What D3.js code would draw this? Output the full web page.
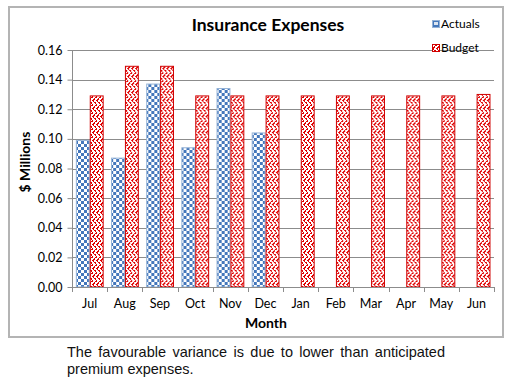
<!DOCTYPE html>
<html><head><meta charset="utf-8">
<script src="https://cdn.jsdelivr.net/npm/d3@7/dist/d3.min.js"></script>
<style>
html,body{margin:0;padding:0;background:#fff;}
svg{display:block;}
</style></head>
<body>
<svg id="c" width="513" height="383"></svg>
<script>
const months = ["Jul","Aug","Sep","Oct","Nov","Dec","Jan","Feb","Mar","Apr","May","Jun"];
const actuals = [0.099,0.087,0.137,0.094,0.134,0.104,null,null,null,null,null,null];
const budget = [0.129,0.149,0.149,0.129,0.129,0.129,0.129,0.129,0.129,0.129,0.129,0.130];
const seriesNames = ["Actuals","Budget"];
const yTicks = [0,0.02,0.04,0.06,0.08,0.10,0.12,0.14,0.16];
const titleText = "Insurance Expenses";
const xTitle = "Month";
const yTitle = "$ Millions";
const footer = ["The favourable variance is due to lower than anticipated","premium expenses."];

(function(){
const svg = d3.select("#c");
const font = "Lato, 'Open Sans', sans-serif";
const defs = svg.append("defs");

// checker pattern
const chk = defs.append("pattern").attr("id","chk").attr("patternUnits","userSpaceOnUse")
  .attr("width",6).attr("height",6);
chk.append("rect").attr("width",6).attr("height",6).attr("fill","#fff");
chk.append("rect").attr("width",3).attr("height",3).attr("fill","#4477bb");
chk.append("rect").attr("x",3).attr("y",3).attr("width",3).attr("height",3).attr("fill","#4477bb");

// herringbone / weave pattern, about half red
const wv = defs.append("pattern").attr("id","wv").attr("patternUnits","userSpaceOnUse")
  .attr("width",8).attr("height",8);
wv.append("rect").attr("width",8).attr("height",8).attr("fill","#fff");
for(let r=0;r<8;r++){
  for(let c=0;c<8;c++){
    const on = r<4 ? ((c+r)%4===0 || (c+r)%4===1 && c%2===0) : ((c-r+8)%4===0 || (c-r+8)%4===1 && c%2===1);
    if(on) wv.append("rect").attr("x",c).attr("y",r).attr("width",1).attr("height",1).attr("fill","#e00000");
  }
}

// frame
svg.append("rect").attr("x",9).attr("y",7).attr("width",494).attr("height",330)
  .attr("fill","#fff").attr("stroke","#b4b4b4").attr("stroke-width",2);

const pl=72, pr=494, pt=50, pb=287;
const x0 = d3.scaleBand().domain(months).range([pl,pr]).padding(0);
const bw = x0.bandwidth();
const x1 = d3.scaleBand().domain(seriesNames).range([0.11*bw,0.9*bw]).padding(0);
const y = d3.scaleLinear().domain([0,0.16]).range([pb,pt]);

// grid
svg.append("g").selectAll("line").data(yTicks.filter(t=>t>0)).join("line")
  .attr("x1",pl).attr("x2",pr).attr("y1",d=>Math.round(y(d))+0.5).attr("y2",d=>Math.round(y(d))+0.5)
  .attr("stroke","#8c8c8c").attr("stroke-width",1);

// bars
const data = months.map((m,i)=>({m, vals:[{s:"Actuals",v:actuals[i]},{s:"Budget",v:budget[i]}]}));
const g = svg.append("g").selectAll("g").data(data).join("g").attr("transform",d=>`translate(${x0(d.m)},0)`);
g.selectAll("rect").data(d=>d.vals.filter(v=>v.v!=null)).join("rect")
  .attr("x",d=>x1(d.s)+0.5).attr("width",x1.bandwidth()-1)
  .attr("y",d=>y(d.v)).attr("height",d=>pb-y(d.v))
  .attr("fill",d=>d.s==="Actuals"?"url(#chk)":"url(#wv)")
  .attr("stroke",d=>d.s==="Actuals"?"#95b3d7":"#d00000").attr("stroke-width",1);

// axes
const yAxis = d3.axisLeft(y).tickValues(yTicks).tickFormat(d3.format(".2f")).tickSize(5).tickPadding(5);
const ya = svg.append("g").attr("transform",`translate(${pl+0.5},0)`).call(yAxis);
ya.select(".domain").attr("stroke","#8c8c8c").attr("d",`M0,${pt}V${pb}`);
ya.selectAll(".tick line").attr("stroke","#8c8c8c");
ya.selectAll("text").attr("font-family",font).attr("font-size",12.5).attr("fill","#000");

const xa = svg.append("g").attr("transform",`translate(0,${pb+0.5})`).call(d3.axisBottom(x0).tickSize(0).tickPadding(12));
xa.select(".domain").attr("stroke","#8c8c8c").attr("d",`M${pl},0H${pr}`);
xa.selectAll("text").attr("font-family",font).attr("font-size",12.5).attr("fill","#000");
// boundary ticks
svg.append("g").selectAll("line").data(months.concat(["end"])).join("line")
  .attr("x1",(d,i)=>Math.round(pl+i*bw)+0.5).attr("x2",(d,i)=>Math.round(pl+i*bw)+0.5)
  .attr("y1",pb).attr("y2",pb+5).attr("stroke","#8c8c8c");

// titles
svg.append("text").attr("x",268).attr("y",31).attr("text-anchor","middle")
  .attr("font-family",font).attr("font-weight","bold").attr("font-size",17.5).text(titleText);
svg.append("text").attr("x",266).attr("y",328).attr("text-anchor","middle")
  .attr("font-family",font).attr("font-weight","bold").attr("font-size",14).text(xTitle);
svg.append("text").attr("transform","translate(30,162) rotate(-90)").attr("text-anchor","middle")
  .attr("font-family",font).attr("font-weight","bold").attr("font-size",14).text(yTitle);

// legend
const lg = svg.append("g").selectAll("g").data(seriesNames).join("g")
  .attr("transform",(d,i)=>`translate(432,${20+i*24})`);
lg.append("rect").attr("x",0.5).attr("y",0.5).attr("width",7).attr("height",7)
  .attr("fill",d=>d==="Actuals"?"#4477bb":"url(#wv)").attr("stroke",d=>d==="Actuals"?"#95b3d7":"#d00000");
lg.filter(d=>d==="Actuals").append("rect").attr("x",2).attr("y",2).attr("width",4).attr("height",3).attr("fill","#dbe5f1");
lg.append("text").attr("x",9).attr("y",8).attr("font-family",font).attr("font-size",12).text(d=>d);

// footer
const ft = svg.append("g").attr("font-family","'Liberation Sans', Arial, sans-serif").attr("font-size",14.5).attr("fill","#111");
footer.forEach((t,i)=>{
  const el = ft.append("text").attr("x",67).attr("y",357+i*17).text(t);
  if(i===0){
    const w = el.node().getComputedTextLength();
    const spaces = (t.match(/ /g)||[]).length;
    const target = 378;
    el.attr("word-spacing", ((target-w)/spaces).toFixed(2));
  }
});
})();
</script>
</body></html>
